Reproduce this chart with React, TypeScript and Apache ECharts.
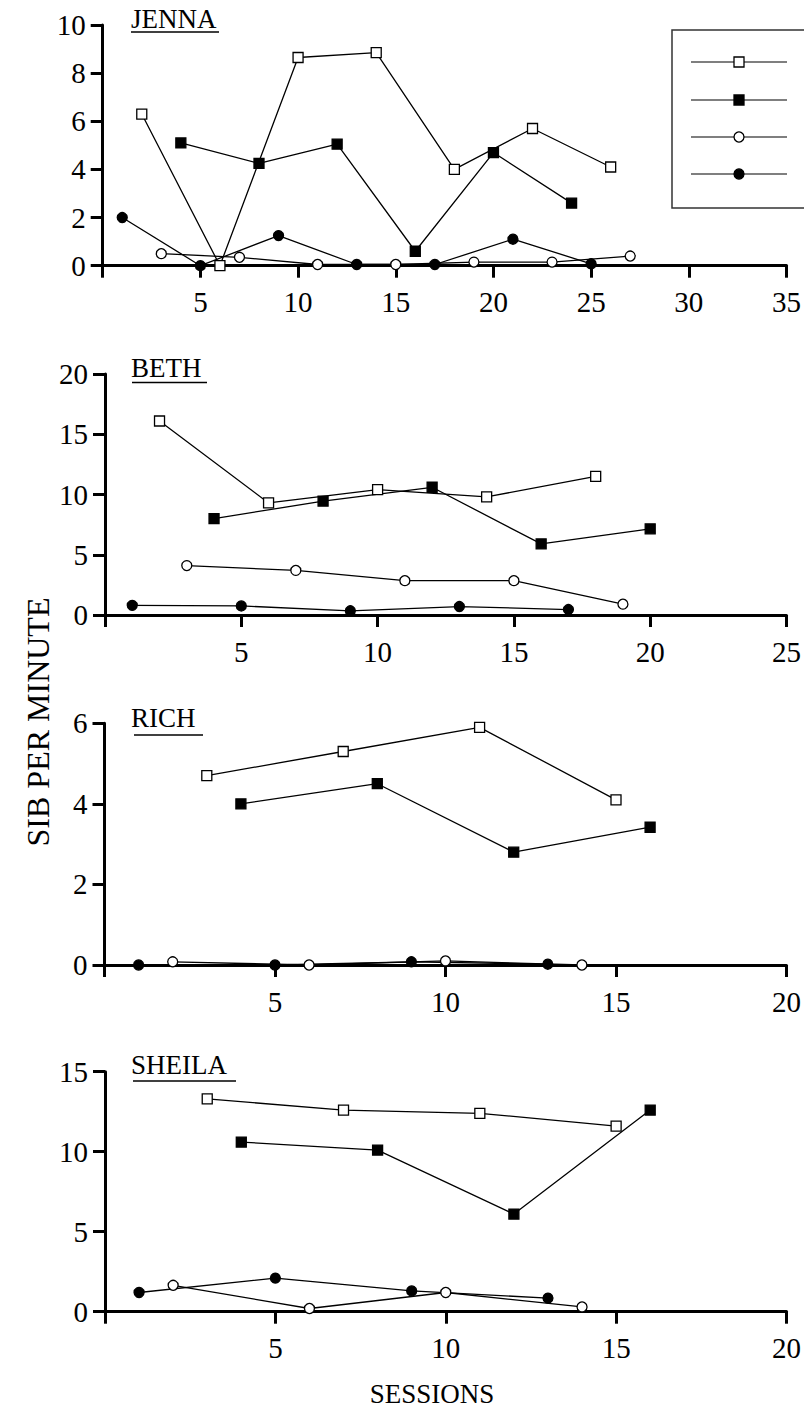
import React, { useEffect, useRef } from "react";
import * as echarts from "echarts";

// ---- data (session, SIB per minute) ----
const jennaOpenSquare = [[2, 6.3], [6, 0], [10, 8.65], [14, 8.85], [18, 4.0], [22, 5.7], [26, 4.1]];
const jennaFilledSquare = [[4, 5.1], [8, 4.25], [12, 5.05], [16, 0.6], [20, 4.7], [24, 2.6]];
const jennaOpenCircle = [[3, 0.5], [7, 0.35], [11, 0.05], [15, 0.05], [19, 0.15], [23, 0.15], [27, 0.4]];
const jennaFilledCircle = [[1, 2.0], [5, 0], [9, 1.25], [13, 0.05], [17, 0.05], [21, 1.1], [25, 0.08]];

const bethOpenSquare = [[2, 16.1], [6, 9.3], [10, 10.4], [14, 9.8], [18, 11.5]];
const bethFilledSquare = [[4, 8.0], [8, 9.45], [12, 10.6], [16, 5.9], [20, 7.15]];
const bethOpenCircle = [[3, 4.1], [7, 3.7], [11, 2.85], [15, 2.85], [19, 0.9]];
const bethFilledCircle = [[1, 0.8], [5, 0.75], [9, 0.35], [13, 0.7], [17, 0.45]];

const richOpenSquare = [[3, 4.7], [7, 5.3], [11, 5.9], [15, 4.1]];
const richFilledSquare = [[4, 4.0], [8, 4.5], [12, 2.8], [16, 3.42]];
const richOpenCircle = [[2, 0.08], [6, 0], [10, 0.1], [14, 0]];
const richFilledCircle = [[1, 0], [5, 0], [9, 0.08], [13, 0.02]];

const sheilaOpenSquare = [[3, 13.3], [7, 12.6], [11, 12.4], [15, 11.6]];
const sheilaFilledSquare = [[4, 10.6], [8, 10.1], [12, 6.1], [16, 12.6]];
const sheilaOpenCircle = [[2, 1.65], [6, 0.2], [10, 1.2], [14, 0.3]];
const sheilaFilledCircle = [[1, 1.2], [5, 2.1], [9, 1.3], [13, 0.85]];

const panelNames = ["JENNA", "BETH", "RICH", "SHEILA"];
const xMax = [35, 25, 20, 20];
const yMax = [10, 20, 6, 15];
const yInterval = [2, 5, 2, 5];
const xInterval = 5;
const yAxisTitle = "SIB PER MINUTE";
const xAxisTitle = "SESSIONS";

const panelSeries = [
  [jennaOpenSquare, jennaFilledSquare, jennaOpenCircle, jennaFilledCircle],
  [bethOpenSquare, bethFilledSquare, bethOpenCircle, bethFilledCircle],
  [richOpenSquare, richFilledSquare, richOpenCircle, richFilledCircle],
  [sheilaOpenSquare, sheilaFilledSquare, sheilaOpenCircle, sheilaFilledCircle],
];

// ---- layout ----
const FONT = "Liberation Serif";
const grids = [
  { left: 102.7, top: 25, width: 686.3, height: 240.7 },
  { left: 105, top: 374, width: 685, height: 241 },
  { left: 104.5, top: 723.3, width: 685.5, height: 241.7 },
  { left: 105, top: 1071.7, width: 685, height: 240 },
];
const seriesStyles = [
  { symbol: "rect", fill: "#fff" },
  { symbol: "rect", fill: "#000" },
  { symbol: "circle", fill: "#fff" },
  { symbol: "circle", fill: "#000" },
];

export default function App() {
  const ref = useRef<HTMLDivElement>(null);
  useEffect(() => {
    if (!ref.current) return;
    const chart = echarts.init(ref.current, null, { renderer: "svg" });

    const axisLine = { show: true, lineStyle: { color: "#000", width: 3 } };
    const axisTick = { show: true, length: 12, lineStyle: { color: "#000", width: 3 } };
    const labelBase = { fontFamily: FONT, fontSize: 29, color: "#000" };

    const xAxis = grids.map((_, i) => ({
      type: "value",
      gridIndex: i,
      min: 0,
      max: xMax[i],
      interval: xInterval,
      offset: 4,
      axisLine,
      axisTick,
      splitLine: { show: false },
      axisLabel: { ...labelBase, margin: 18, formatter: (v: number) => (v === 0 ? "" : String(v)) },
    }));
    const yAxis = grids.map((_, i) => ({
      type: "value",
      gridIndex: i,
      min: 0,
      max: yMax[i],
      interval: yInterval[i],
      axisLine,
      axisTick,
      splitLine: { show: false },
      axisLabel: { ...labelBase, margin: 17 },
    }));

    const series: any[] = [];
    panelSeries.forEach((group, i) => {
      group.forEach((data, k) => {
        const st = seriesStyles[k];
        series.push({
          type: "line",
          name: panelNames[i] + "-" + k,
          xAxisIndex: i,
          yAxisIndex: i,
          data,
          symbol: st.symbol,
          symbolSize: 10,
          showAllSymbol: true,
          lineStyle: { color: "#000", width: 1.3 },
          itemStyle: { color: st.fill, borderColor: "#000", borderWidth: 1.3 },
          z: 3,
        });
      });
    });

    const graphic: any[] = [];
    const titleY = [5, 354, 704, 1051];
    panelNames.forEach((name, i) => {
      graphic.push({
        type: "text",
        left: 131,
        top: titleY[i],
        style: { text: name, fontFamily: FONT, fontSize: 27, fill: "#000" },
      });
    });
    // underlines
    const underline = [
      [131, 219, 32],
      [132, 207, 382.5],
      [134, 203, 735],
      [133, 236, 1081],
    ];
    underline.forEach(([x1, x2, y]) => {
      graphic.push({
        type: "line",
        shape: { x1, y1: y, x2, y2: y },
        style: { stroke: "#000", lineWidth: 1.5 },
      });
    });

    // legend box (labels cropped in original)
    graphic.push({
      type: "rect",
      shape: { x: 672, y: 30, width: 150, height: 178 },
      style: { fill: "#fff", stroke: "#333", lineWidth: 1.5 },
      z: 10,
    });
    const legendRows = [62, 100, 137, 174];
    legendRows.forEach((y, k) => {
      graphic.push({
        type: "line",
        shape: { x1: 691, y1: y, x2: 787, y2: y },
        style: { stroke: "#000", lineWidth: 1.2 },
        z: 11,
      });
      const st = seriesStyles[k];
      if (st.symbol === "rect") {
        graphic.push({
          type: "rect",
          shape: { x: 734, y: y - 5, width: 10, height: 10 },
          style: { fill: st.fill, stroke: "#000", lineWidth: 1.3 },
          z: 12,
        });
      } else {
        graphic.push({
          type: "circle",
          shape: { cx: 739, cy: y, r: 5 },
          style: { fill: st.fill, stroke: "#000", lineWidth: 1.3 },
          z: 12,
        });
      }
    });

    graphic.push({
      type: "text",
      x: 38,
      y: 722,
      rotation: Math.PI / 2,
      style: {
        text: yAxisTitle,
        fontFamily: FONT,
        fontSize: 32,
        fill: "#000",
        align: "center",
        verticalAlign: "middle",
      },
    });
    graphic.push({
      type: "text",
      x: 432,
      y: 1394,
      style: {
        text: xAxisTitle,
        fontFamily: FONT,
        fontSize: 27,
        fill: "#000",
        align: "center",
        verticalAlign: "middle",
      },
    });

    chart.setOption({
      animation: false,
      backgroundColor: "#fff",
      grid: grids.map((g) => ({ ...g, containLabel: false })),
      xAxis,
      yAxis,
      series,
      graphic,
    });
    return () => chart.dispose();
  }, []);

  return (
    <div
      ref={ref}
      style={{ position: "absolute", left: 0, top: 0, width: 804, height: 1423, background: "#fff" }}
    />
  );
}
